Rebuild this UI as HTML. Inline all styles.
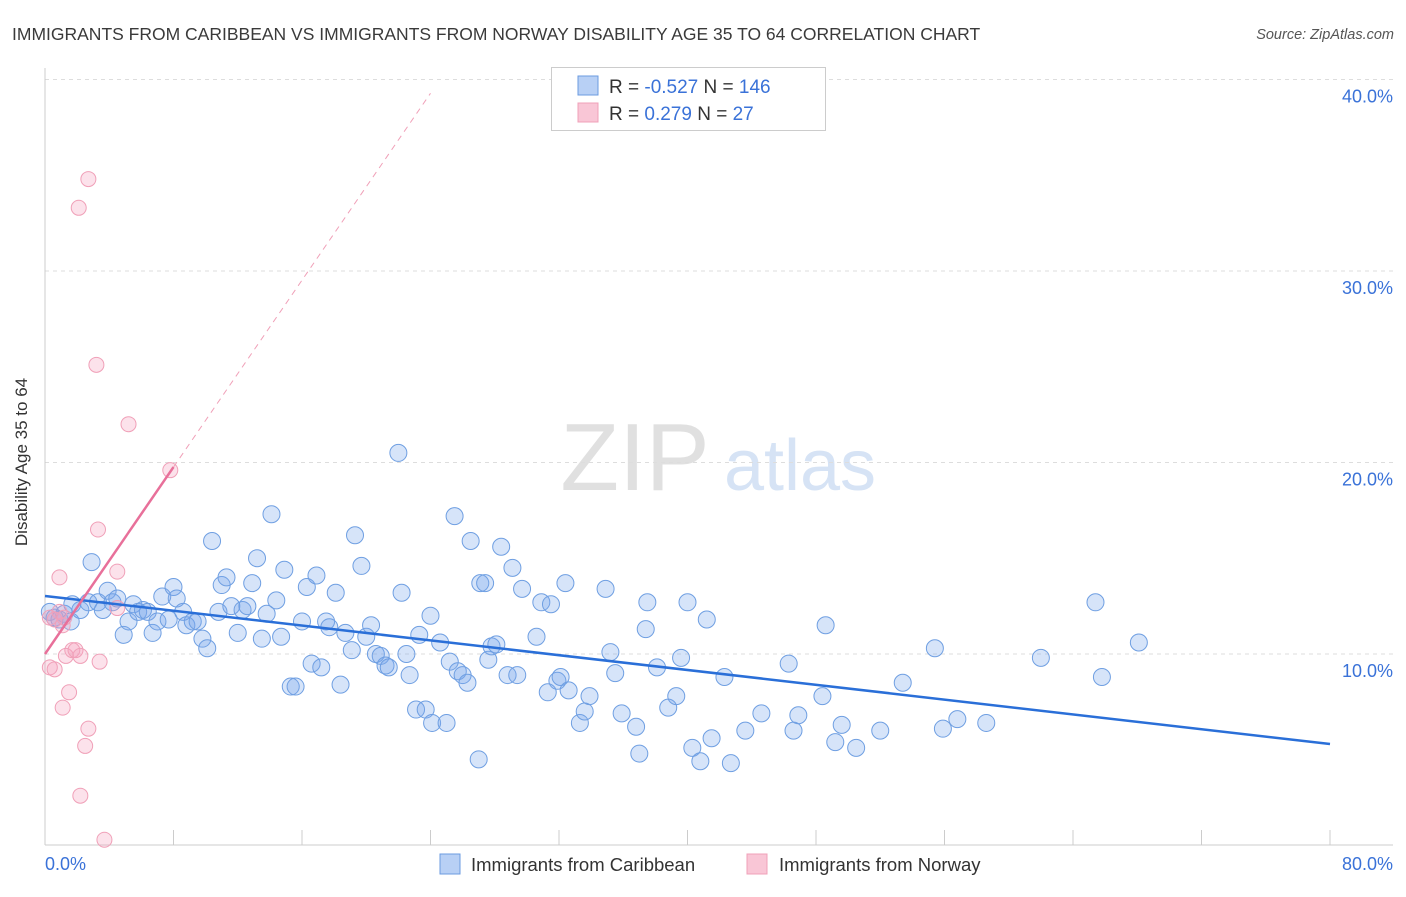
<!DOCTYPE html>
<html><head><meta charset="utf-8"><style>
body{margin:0;background:#fff;font-family:"Liberation Sans",sans-serif;}
svg text{font-family:"Liberation Sans",sans-serif;}
</style></head><body>
<svg id="chart" width="1406" height="892" xmlns="http://www.w3.org/2000/svg">
<text x="12" y="40" font-size="17.5" fill="#3a3a3a">IMMIGRANTS FROM CARIBBEAN VS IMMIGRANTS FROM NORWAY DISABILITY AGE 35 TO 64 CORRELATION CHART</text>
<text x="1394" y="39" font-size="14.5" fill="#555" font-style="italic" text-anchor="end">Source: ZipAtlas.com</text>
<g>
<text x="635" y="490" font-size="96" fill="#e0e0e0" font-family="Liberation Serif,serif" text-anchor="middle">ZIP</text>
<text x="800" y="490" font-size="72" fill="#d6e3f5" text-anchor="middle">atlas</text>
</g>
<g id="grid"></g>
<g id="axes"></g>
<g id="pts"></g>
<g id="trend"></g>
<text x="20" y="455" font-size="17" fill="#333" text-anchor="middle" transform="rotate(-90 27 455)">Disability Age 35 to 64</text>
<g>
<rect x="551.5" y="67.5" width="274" height="63" fill="#fff" stroke="#ccc"/>
<rect x="578" y="76" width="20" height="19" fill="#b8d0f5" stroke="#6b9be0"/>
<rect x="578" y="103" width="20" height="19" fill="#f9c6d6" stroke="#f0a0b8"/>
<text x="609" y="93" font-size="19" fill="#333">R = <tspan fill="#3a72d8">-0.527</tspan>   N = <tspan fill="#3a72d8">146</tspan></text>
<text x="609" y="120" font-size="19" fill="#333">R =  <tspan fill="#3a72d8"> 0.279</tspan>   N =  <tspan fill="#3a72d8"> 27</tspan></text>
</g>
<g>
<rect x="440" y="854" width="20" height="20" fill="#b8d0f5" stroke="#6b9be0"/>
<text x="471" y="871" font-size="18.5" fill="#333">Immigrants from Caribbean</text>
<rect x="747" y="854" width="20" height="20" fill="#f9c6d6" stroke="#f0a0b8"/>
<text x="779" y="871" font-size="18.5" fill="#333">Immigrants from Norway</text>
</g>
</svg>
<script>
const blueX=[0.3,0.6,0.9,1.2,1.6,1.7,2.2,2.7,2.9,3.3,3.6,3.9,4.2,4.5,4.9,5.2,5.5,5.8,6.1,6.4,6.7,7.0,7.3,7.7,8.0,8.2,8.6,8.8,9.2,9.5,9.8,10.1,10.4,10.8,11.0,11.3,11.6,12.0,12.3,12.6,12.9,13.2,13.5,13.8,14.1,14.4,14.7,14.9,15.3,15.6,16.0,16.3,16.6,16.9,17.2,17.5,17.7,18.1,18.4,18.7,19.1,19.3,19.7,20.0,20.3,20.6,20.9,21.2,21.4,22.0,22.2,22.5,22.7,23.1,23.3,23.7,24.0,24.1,24.6,25.0,25.2,25.5,25.7,26.0,26.3,26.5,27.0,27.1,27.4,27.6,27.8,28.1,28.4,28.8,29.1,29.4,29.7,30.6,30.9,31.3,31.5,31.9,32.1,32.4,32.6,33.3,33.6,33.9,34.9,35.2,35.5,35.9,36.8,37.0,37.4,37.5,38.1,38.8,39.3,40.0,39.6,40.3,40.8,41.2,41.5,42.3,42.7,43.6,44.6,46.3,46.6,46.9,48.4,48.6,49.2,49.6,50.5,52.0,53.4,55.4,55.9,56.8,58.6,62.0,65.4,65.8,68.1];
const blueY=[12.2,11.9,11.8,12.1,11.7,12.6,12.3,12.7,14.8,12.7,12.3,13.3,12.7,12.9,11.0,11.7,12.6,12.2,12.3,12.2,11.1,11.7,13.0,11.8,13.5,12.9,12.2,11.5,11.7,11.7,10.8,10.3,15.9,12.2,13.6,14.0,12.5,11.1,12.3,12.5,13.7,15.0,10.8,12.1,17.3,12.8,10.9,14.4,8.3,8.3,11.7,13.5,9.5,14.1,9.3,11.7,11.4,13.2,8.4,11.1,10.2,16.2,14.6,10.9,11.5,10.0,9.9,9.4,9.3,20.5,13.2,10.0,8.9,7.1,11.0,7.1,12.0,6.4,10.6,6.4,9.6,17.2,9.1,8.9,8.5,15.9,4.5,13.7,13.7,9.7,10.4,10.5,15.6,8.9,14.5,8.9,13.4,10.9,12.7,8.0,12.6,8.6,8.8,13.7,8.1,6.4,7.0,7.8,13.4,10.1,9.0,6.9,6.2,4.8,11.3,12.7,9.3,7.2,7.8,12.7,9.8,5.1,4.4,11.8,5.6,8.8,4.3,6.0,6.9,9.5,6.0,6.8,7.8,11.5,5.4,6.3,5.1,6.0,8.5,10.3,6.1,6.6,6.4,9.8,12.7,8.8,10.6];
const pinkX=[2.7,2.1,3.2,5.2,7.8,3.3,4.5,0.9,0.3,0.6,1.1,1.3,1.7,1.9,2.2,3.4,0.3,0.6,1.1,1.5,2.7,2.5,2.2,3.7,4.5,0.9,1.2];
const pinkY=[34.8,33.3,25.1,22.0,19.6,16.5,14.3,14.0,11.9,11.8,11.5,9.9,10.2,10.2,9.9,9.6,9.3,9.2,7.2,8.0,6.1,5.2,2.6,0.3,12.4,12.2,11.9];
const blueTrendX=[0,80];const blueTrendY=[13.03,5.3];
const pinkTrendX=[0,8];const pinkTrendY=[10.0,19.76];const pinkDashEnd=[24.0];
const yTicks=[10,20,30,40];const yTickLabels=["10.0%","20.0%","30.0%","40.0%"];
const xTickCount=10;
const sx=v=>45+v*16.0625, sy=v=>845.5-v*19.15;
const NS="http://www.w3.org/2000/svg";
function mk(tag,attrs,parent){const e=document.createElementNS(NS,tag);for(const k in attrs)e.setAttribute(k,attrs[k]);parent.appendChild(e);return e;}
const grid=document.getElementById('grid'),axes=document.getElementById('axes'),pts=document.getElementById('pts'),tr=document.getElementById('trend');
yTicks.forEach((t,i)=>{
 const l=mk('line',{x1:45,x2:1393,y1:sy(t),y2:sy(t),stroke:'#ddd','stroke-dasharray':'4,4'},grid);
 
 
 const tx=mk('text',{x:1393,y:sy(t)+23,'font-size':18,fill:'#3a72d8','text-anchor':'end'},axes);
 tx.textContent=yTickLabels[i];
 
 
});
const ax=mk('line',{x1:45,x2:45,y1:68,y2:845,stroke:'#ccc'},axes);


const bx=mk('line',{x1:45,x2:1393,y1:845,y2:845,stroke:'#ccc'},axes);


for(let i=0;i<=xTickCount;i++){const x=sx(i*8);const t=mk('line',{x1:x,x2:x,y1:830,y2:845,stroke:'#ccc'},axes);
 
 }
const x0=mk('text',{x:45,y:870,'font-size':18,fill:'#3a72d8'},axes);x0.textContent='0.0%';


const x1=mk('text',{x:1393,y:870,'font-size':18,fill:'#3a72d8','text-anchor':'end'},axes);x1.textContent='80.0%';


blueX.forEach((v,i)=>{const c=mk('circle',{cx:sx(v),cy:sy(blueY[i]),r:8.5,fill:'rgba(120,165,235,0.3)',stroke:'#6f9fe2','stroke-width':1},pts);
 
 });
pinkX.forEach((v,i)=>{const c=mk('circle',{cx:sx(v),cy:sy(pinkY[i]),r:7.5,fill:'rgba(245,160,190,0.3)',stroke:'#f0a0b8','stroke-width':1},pts);
 
 });
const bl=mk('line',{x1:sx(blueTrendX[0]),y1:sy(blueTrendY[0]),x2:sx(blueTrendX[1]),y2:sy(blueTrendY[1]),stroke:'#2a6fd8','stroke-width':2.5},tr);


const slope=(pinkTrendY[1]-pinkTrendY[0])/(pinkTrendX[1]-pinkTrendX[0]);
const pd=mk('line',{x1:sx(pinkTrendX[1]),y1:sy(pinkTrendY[1]),x2:sx(pinkDashEnd[0]),y2:sy(pinkTrendY[0]+slope*pinkDashEnd[0]),stroke:'#f0a0b8','stroke-width':1,'stroke-dasharray':'6,5'},tr);


const pl=mk('line',{x1:sx(pinkTrendX[0]),y1:sy(pinkTrendY[0]),x2:sx(pinkTrendX[1]),y2:sy(pinkTrendY[1]),stroke:'#e8709a','stroke-width':2.5},tr);


</script>
</body></html>
